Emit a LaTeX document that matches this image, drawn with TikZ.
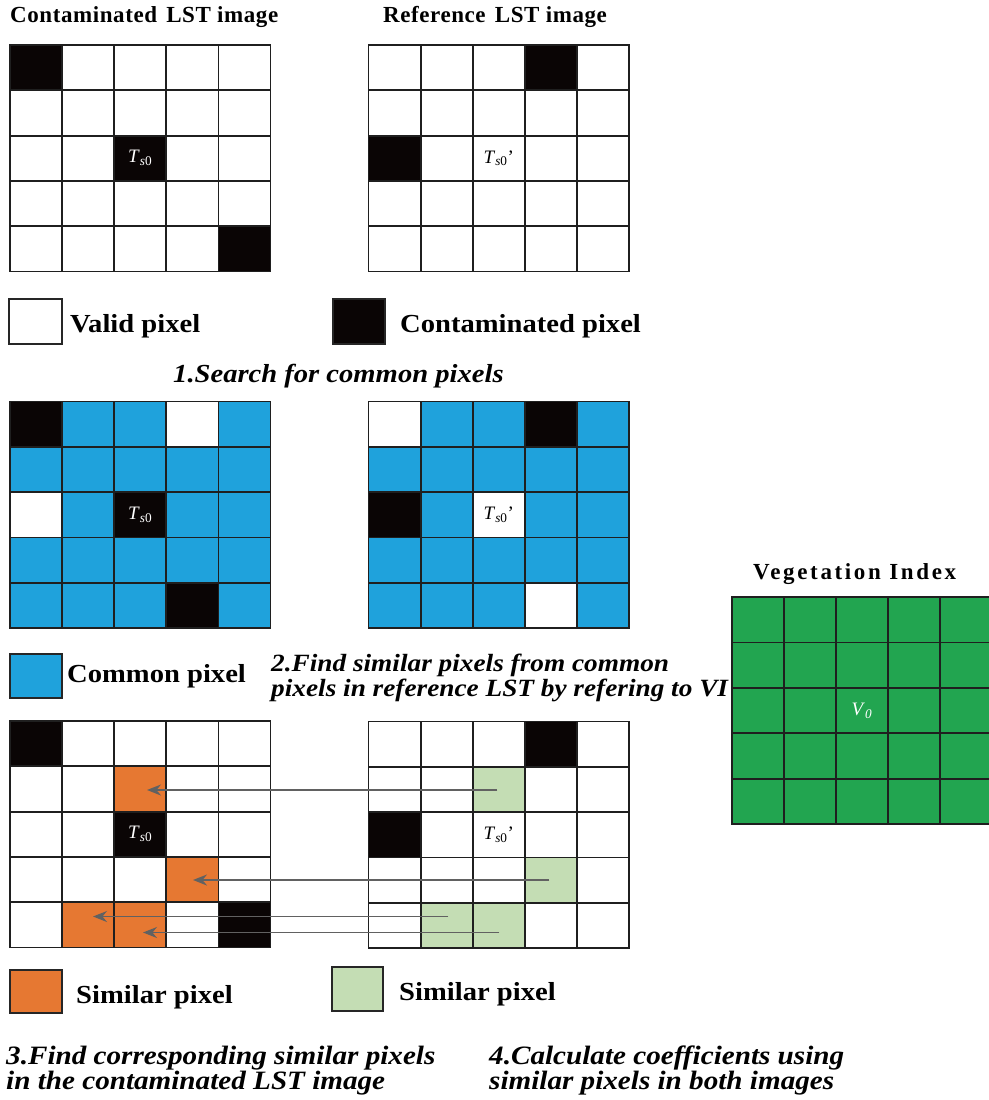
\documentclass[tikz,border=0pt]{standalone}
\usepackage{fontspec}
\setmainfont{Liberation Serif}
\newfontfamily\titlefont{Liberation Serif}[LetterSpace=2.5]
\newfontfamily\vifont{Liberation Serif}[LetterSpace=11.5]
\newfontfamily\legendfont{Liberation Serif}[FakeStretch=1.1]
\usepackage{xcolor}
\usepackage{tikz}
\usetikzlibrary{arrows.meta}

\definecolor{pixblue}{HTML}{1FA2DC}
\definecolor{pixorange}{HTML}{E67832}
\definecolor{pixlight}{HTML}{C4DDB4}
\definecolor{pixgreen}{HTML}{22A550}
\definecolor{pixblack}{HTML}{0A0505}

% o luoi 5x5 trong scope hien hanh
\newcommand{\pixgrid}{%
  \foreach \k in {0,...,5} {%
    \draw[gridline] (\k,0) -- (\k,5);
    \draw[gridline] (0,\k) -- (5,\k);
  }}
\newcommand{\pix}[3]{\fill[#3] (#1,#2) rectangle ++(1,1);}
\newcommand{\Tso}{\textit{T}\textsubscript{\textit{s}0}}

\begin{document}
\begin{tikzpicture}[x=1pt, y=-1pt, >=Stealth,
    gridline/.style={line width=1.8pt, draw=black!88, line cap=rect},
    pixbox/.style={line width=1.4pt, draw=black!85},
    titletext/.style={anchor=base west, inner sep=0pt, font=\titlefont\fontsize{23}{25}\selectfont\bfseries},
    legendtext/.style={anchor=base west, inner sep=0pt, font=\legendfont\fontsize{26}{28}\selectfont\bfseries},
    steptext/.style={anchor=north west, inner sep=0pt, align=left, font=\legendfont\fontsize{26.5}{25}\selectfont\bfseries\itshape},
    celllabel/.style={inner sep=0pt, font=\fontsize{19}{20}\selectfont},
    simarrow/.style={-{Stealth[length=14pt, width=11pt]}, line width=1.9pt, draw=black!62, fill=black!75}]

    \useasboundingbox (0,0) rectangle (988,1100);

    % =================================================================
    % 1. ANH LST BI NHIEM VA ANH LST THAM CHIEU
    % =================================================================
    \node[titletext] (TitleCont) at (10,22) {Contaminated\hspace{0.4em}LST image};
    \node[titletext] (TitleRef) at (383,22) {Reference\hspace{0.4em}LST image};

    \begin{scope}[shift={(10,45)}, x=52.1pt, y=-45.3pt]
        \pix{0}{0}{pixblack} \pix{2}{2}{pixblack} \pix{4}{4}{pixblack}
        \pixgrid
        \node[celllabel, text=white] (TsContA) at (2.5,2.5) {\Tso};
    \end{scope}

    \begin{scope}[shift={(368.5,45)}, x=52.1pt, y=-45.3pt]
        \pix{3}{0}{pixblack} \pix{0}{2}{pixblack}
        \pixgrid
        \node[celllabel] (TsRefA) at (2.5,2.5) {\Tso’};
    \end{scope}

    % Chu thich pixel hop le / bi nhiem
    \draw[pixbox, fill=white] (9,299) rectangle (62,344);
    \node[legendtext] (LegValid) at (70,332) {Valid pixel};
    \draw[pixbox, fill=pixblack] (333,299) rectangle (385,344);
    \node[legendtext] (LegCont) at (400,332) {Contaminated pixel};

    \node[steptext, anchor=base west, font=\legendfont\fontsize{26}{25}\selectfont\bfseries\itshape] (StepOne) at (173,382) {1.Search for common pixels};

    % =================================================================
    % 2. PIXEL CHUNG
    % =================================================================
    \begin{scope}[shift={(10,401.5)}, x=52.1pt, y=-45.3pt]
        \fill[pixblue] (0,0) rectangle (5,5);
        \pix{3}{0}{white} \pix{0}{2}{white}
        \pix{0}{0}{pixblack} \pix{2}{2}{pixblack} \pix{3}{4}{pixblack}
        \pixgrid
        \node[celllabel, text=white] (TsContB) at (2.5,2.5) {\Tso};
    \end{scope}

    \begin{scope}[shift={(368.5,401.5)}, x=52.1pt, y=-45.3pt]
        \fill[pixblue] (0,0) rectangle (5,5);
        \pix{0}{0}{white} \pix{2}{2}{white} \pix{3}{4}{white}
        \pix{3}{0}{pixblack} \pix{0}{2}{pixblack}
        \pixgrid
        \node[celllabel] (TsRefB) at (2.5,2.5) {\Tso’};
    \end{scope}

    \draw[pixbox, fill=pixblue] (10,654) rectangle (62,698);
    \node[legendtext] (LegCommon) at (67,682) {Common pixel};

    \node[steptext, font=\legendfont\fontsize{24.8}{25}\selectfont\bfseries\itshape] (StepTwo) at (271,654)
        {2.Find similar pixels from common\\pixels in reference LST by refering to VI};

    % Chi so thuc vat
    \node[titletext, font=\vifont\fontsize{23}{25}\selectfont\bfseries] (TitleVI) at (753,579) {Vegetation Index};
    \begin{scope}[shift={(732,597)}, x=52pt, y=-45.4pt]
        \fill[pixgreen] (0,0) rectangle (5,5);
        \pixgrid
        \node[celllabel, text=white] (VZero) at (2.5,2.5) {\textit{V}\textsubscript{\textit{0}}};
    \end{scope}

    % =================================================================
    % 3. PIXEL TUONG TU
    % =================================================================
    \begin{scope}[shift={(10,721)}, x=52.1pt, y=-45.3pt]
        \pix{0}{0}{pixblack} \pix{2}{2}{pixblack} \pix{4}{4}{pixblack}
        \pix{2}{1}{pixorange} \pix{3}{3}{pixorange} \pix{1}{4}{pixorange} \pix{2}{4}{pixorange}
        \pixgrid
        \node[celllabel, text=white] (TsContC) at (2.5,2.5) {\Tso};
    \end{scope}

    \begin{scope}[shift={(368.5,721.5)}, x=52.1pt, y=-45.3pt]
        \pix{3}{0}{pixblack} \pix{0}{2}{pixblack}
        \pix{2}{1}{pixlight} \pix{3}{3}{pixlight} \pix{1}{4}{pixlight} \pix{2}{4}{pixlight}
        \pixgrid
        \node[celllabel] (TsRefC) at (2.5,2.5) {\Tso’};
    \end{scope}

    % Diem dau (anh tham chieu) va diem cuoi (anh bi nhiem) cua mui ten
    \coordinate (SimRef1) at (497,790);   \coordinate (SimCont1) at (147,790);
    \coordinate (SimRef2) at (549,880);   \coordinate (SimCont2) at (193,880);
    \coordinate (SimRef3) at (448,916.5); \coordinate (SimCont3) at (93,916.5);
    \coordinate (SimRef4) at (499,932.5); \coordinate (SimCont4) at (143,932.5);

    \draw[simarrow] (SimRef1) -- (SimCont1);
    \draw[simarrow] (SimRef2) -- (SimCont2);
    \draw[simarrow] (SimRef3) -- (SimCont3);
    \draw[simarrow] (SimRef4) -- (SimCont4);

    \draw[pixbox, fill=pixorange] (10,970) rectangle (62,1013);
    \node[legendtext] (LegSimCont) at (76,1003) {Similar pixel};
    \draw[pixbox, fill=pixlight] (332,967) rectangle (383,1011);
    \node[legendtext] (LegSimRef) at (399,1000) {Similar pixel};

    % =================================================================
    % 4. CAC BUOC 3 VA 4
    % =================================================================
    \node[steptext] (StepThree) at (6,1046)
        {3.Find corresponding similar pixels\\in the contaminated LST image};
    \node[steptext] (StepFour) at (489,1046)
        {4.Calculate coefficients using\\similar pixels in both images};

\end{tikzpicture}
\end{document}
